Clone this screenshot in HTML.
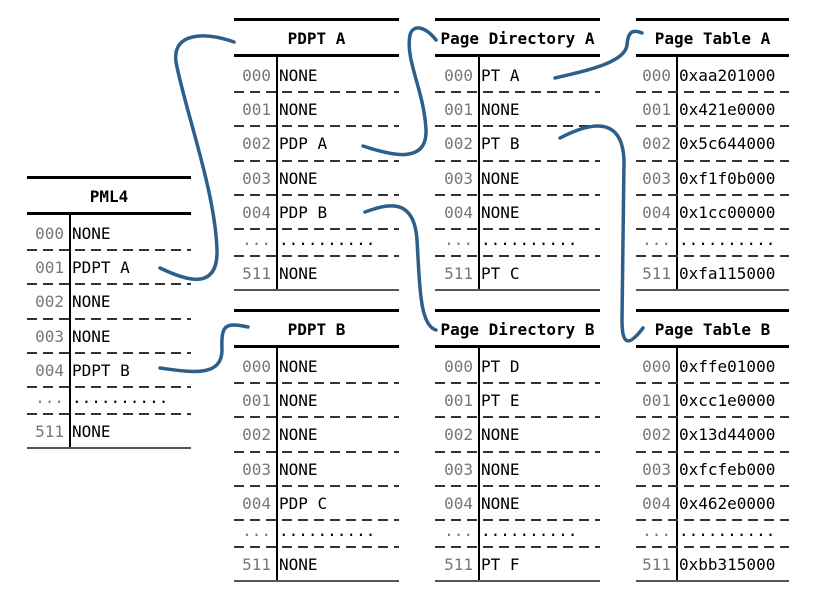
<!DOCTYPE html>
<html><head><meta charset="utf-8">
<style>
body{margin:0;background:#fff;width:832px;height:596px;overflow:hidden;position:relative;font-family:"DejaVu Sans Mono","Liberation Mono",monospace;}
.t{position:absolute;}
.top{position:absolute;left:0;right:0;height:3px;background:#000;top:0}
.hl{position:absolute;left:0;right:0;height:3px;background:#000}
.bot{position:absolute;left:0;right:0;height:2px;background:#555}
.hd{position:absolute;left:0;right:0;text-align:center;font-weight:bold;font-size:16px;color:#000}
.sep{position:absolute;width:1.5px;background:#000}
.num{position:absolute;text-align:right;font-size:16px;color:#777}
.val{position:absolute;font-size:16px;color:#000;white-space:pre}
.dash{position:absolute;left:0;right:0;height:2px;background:repeating-linear-gradient(90deg,#333 0 10px,transparent 10px 16px)}
svg{position:absolute;left:0;top:0}
</style></head><body>
<div id="root"></div>
<svg width="832" height="596">
<g fill="none" stroke="#2c5f8a" stroke-width="3.5" stroke-linecap="round">
<path d="M160,268 C185,280 218,292 217,250 C215,190 185,110 176,62 C172,32 205,32 234,42"/>
<path d="M160,368 C190,372 222,378 222,350 C221,325 225,322 248,327"/>
<path d="M363,146 C390,155 427,165 426,130 C424,90 405,60 410,35 C413,24 425,26 436,40"/>
<path d="M365,212 C385,205 414,195 417,240 C420,290 420,325 436,330"/>
<path d="M555,78 C590,70 625,62 627,45 C628,32 632,29 642,33"/>
<path d="M560,138 C585,125 622,112 624,160 L622,320 C622,348 630,345 643,328"/>
</g></svg>
<script>
const tables=[
 {name:"pml4",title:"PML4",x:27,w:164,top:176,sep:42,vals:["NONE","PDPT A","NONE","NONE","PDPT B","..........","NONE"]},
 {name:"pdpt-a",title:"PDPT A",x:234,w:165,top:18,sep:42,vals:["NONE","NONE","PDP A","NONE","PDP B","..........","NONE"]},
 {name:"pdpt-b",title:"PDPT B",x:234,w:165,top:309,sep:42,vals:["NONE","NONE","NONE","NONE","PDP C","..........","NONE"]},
 {name:"page-directory-a",title:"Page Directory A",x:435,w:165,top:18,sep:43,vals:["PT A","NONE","PT B","NONE","NONE","..........","PT C"]},
 {name:"page-directory-b",title:"Page Directory B",x:435,w:165,top:309,sep:43,vals:["PT D","PT E","NONE","NONE","NONE","..........","PT F"]},
 {name:"page-table-a",title:"Page Table A",x:636,w:153,top:18,sep:40,vals:["0xaa201000","0x421e0000","0x5c644000","0xf1f0b000","0x1cc00000","..........","0xfa115000"]},
 {name:"page-table-b",title:"Page Table B",x:636,w:153,top:309,sep:40,vals:["0xffe01000","0xcc1e0000","0x13d44000","0xfcfeb000","0x462e0000","..........","0xbb315000"]}
];
const idx=["000","001","002","003","004","...","511"];
const root=document.getElementById('root');
function mk(cls,parent){const d=document.createElement('div');d.className=cls;parent.appendChild(d);return d;}
tables.forEach(t=>{
 const el=mk('t',root);
 
 
 el.style.left=t.x+'px';el.style.top=t.top+'px';el.style.width=t.w+'px';el.style.height='275px';
 mk('top',el);
 const hd=mk('hd',el);hd.textContent=t.title;hd.style.top='11px';
 
 
 const hl=mk('hl',el);hl.style.top='36px';
 const rowTops=[40,74,108,143,177,211,238];
 const rowH=[34,34,35,34,34,27,34];
 const sep=mk('sep',el);sep.style.left=t.sep+'px';sep.style.top='38px';sep.style.height='234px';
 for(let i=0;i<7;i++){
  const y=rowTops[i];
  const n=mk('num',el);n.textContent=idx[i];n.style.left='0px';n.style.width=(t.sep-5)+'px';n.style.top=(y+(rowH[i]-19)/2+ (i==5?-3:0))+'px';
  
  
  const v=mk('val',el);v.textContent=t.vals[i];v.style.left=(t.sep+3)+'px';v.style.top=(y+(rowH[i]-19)/2+(i==5?-3:0))+'px';
  
  
  if(i<6){const d=mk('dash',el);d.style.top=(y+rowH[i]-1)+'px';}
 }
 const b=mk('bot',el);b.style.top='271px';
});
</script>
</body></html>
